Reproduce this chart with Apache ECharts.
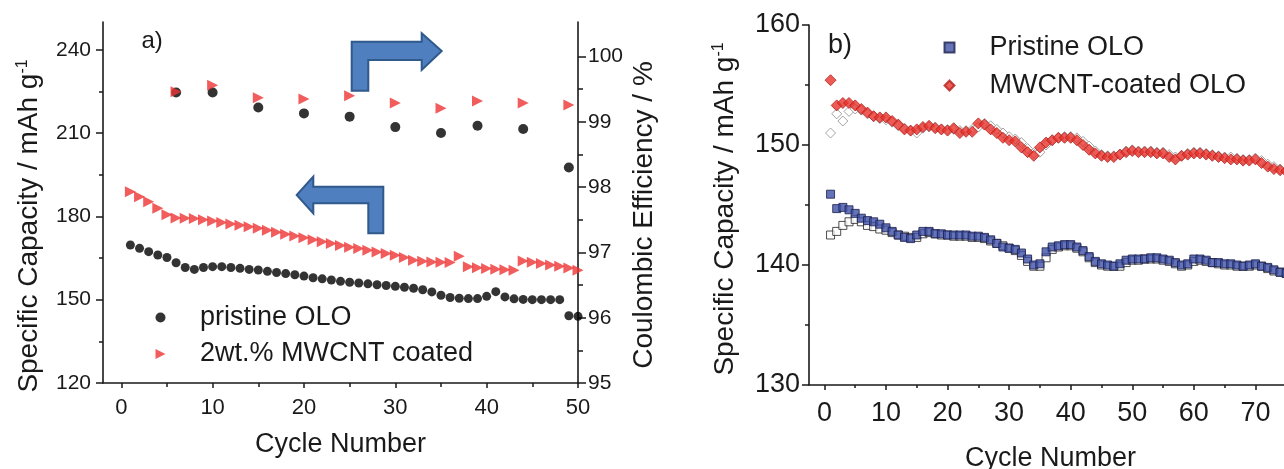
<!DOCTYPE html>
<html><head><meta charset="utf-8">
<script src="https://cdn.jsdelivr.net/npm/echarts@6/dist/echarts.min.js"></script>
<style>html,body{margin:0;padding:0;background:#fff}#c{width:1284px;height:469px}</style>
</head><body><div id="c"></div>
<script>
// ---------- Panel a data ----------
const cyclesA = [1,2,3,4,5,6,7,8,9,10,11,12,13,14,15,16,17,18,19,20,21,22,23,24,25,26,27,28,29,30,31,32,33,34,35,36,37,38,39,40,41,42,43,44,45,46,47,48,49,50];
const capPristineA = [169.7,168.5,167.3,166.1,165.2,163.3,161.6,160.9,161.6,161.9,161.9,161.6,161.3,160.9,160.7,160.2,159.8,159.4,159.0,158.5,157.9,157.5,157.1,156.6,156.3,156.0,155.7,155.4,155.1,154.8,154.5,154.1,153.6,152.8,151.6,150.8,150.5,150.4,150.4,151.2,152.9,151.0,150.3,150.1,150.0,150.0,150.0,150.0,144.2,144.0];
const capCoatedA = [188.9,187.1,185.3,182.9,180.6,179.4,179.3,179.2,178.8,178.3,177.8,177.3,176.8,176.3,175.7,175.0,174.3,173.6,172.9,172.3,171.6,170.9,170.2,169.5,168.9,168.4,167.8,167.2,166.6,166.0,165.2,164.2,163.8,163.6,163.5,163.4,165.6,161.9,161.5,161.2,161.0,160.8,160.6,163.9,163.5,163.0,162.5,162.0,161.4,160.6];
const ceCycles = [6,10,15,20,25,30,35,39,44,49];
const cePristine = [99.45,99.45,99.22,99.13,99.08,98.92,98.83,98.94,98.89,98.30];
const ceCoated = [99.46,99.56,99.37,99.35,99.40,99.29,99.21,99.32,99.29,99.26];
const xTicksA = [0,10,20,30,40,50];
const xMinorA = [5,15,25,35,45];
const yTicksA = [120,150,180,210,240];
const yMinorA = [135,165,195,225];
const ceTicks = [95,96,97,98,99,100];
const ceMinor = [95.5,96.5,97.5,98.5,99.5];

// ---------- Panel b data ----------
const cyclesB = [1,2,3,4,5,6,7,8,9,10,11,12,13,14,15,16,17,18,19,20,21,22,23,24,25,26,27,28,29,30,31,32,33,34,35,36,37,38,39,40,41,42,43,44,45,46,47,48,49,50,51,52,53,54,55,56,57,58,59,60,61,62,63,64,65,66,67,68,69,70,71,72,73,74,75];
const pristineB = [145.9,144.7,144.8,144.6,144.3,143.9,143.7,143.6,143.4,143.1,142.8,142.5,142.3,142.2,142.5,142.8,142.8,142.6,142.6,142.5,142.5,142.5,142.5,142.4,142.4,142.3,142.1,141.8,141.5,141.4,141.3,141.0,140.5,140.0,140.1,141.1,141.5,141.6,141.7,141.7,141.5,141.2,140.7,140.3,140.1,140.0,139.9,140.1,140.4,140.5,140.5,140.5,140.6,140.6,140.5,140.4,140.2,140.0,140.1,140.5,140.5,140.4,140.2,140.2,140.1,140.1,140.0,139.9,140.0,140.1,139.9,139.8,139.6,139.4,139.3];
const pristineHollowB = [142.5,142.8,143.3,143.6,143.8,143.6,143.3,143.2,143.0,142.9,142.7,142.5,142.4,142.3,142.3,142.6,142.7,142.6,142.5,142.5,142.4,142.4,142.4,142.3,142.3,142.2,142.0,141.8,141.6,141.4,141.2,140.8,140.3,139.9,139.9,140.6,141.3,141.5,141.6,141.6,141.4,141.1,140.6,140.2,140.0,139.9,139.9,139.9,140.2,140.4,140.4,140.5,140.5,140.5,140.4,140.3,140.1,139.9,140.0,140.3,140.4,140.3,140.2,140.1,140.0,140.0,139.9,139.9,139.9,140.0,139.9,139.7,139.5,139.4,139.3];
const coatedB = [155.4,153.3,153.5,153.5,153.3,153.0,152.7,152.4,152.3,152.3,152.0,151.7,151.3,151.2,151.3,151.5,151.6,151.4,151.3,151.2,151.4,151.0,151.1,151.1,151.8,151.7,151.3,151.0,150.6,150.4,150.3,149.8,149.4,149.1,149.8,150.2,150.4,150.6,150.6,150.6,150.4,150.0,149.6,149.3,149.1,149.0,149.0,149.2,149.4,149.5,149.4,149.4,149.4,149.3,149.3,149.0,148.8,149.1,149.2,149.3,149.3,149.2,149.1,149.0,148.9,148.8,148.8,148.7,148.7,148.8,148.5,148.2,148.0,147.9,147.8];
const coatedHollowB = [151.0,152.6,152.0,152.8,153.0,152.9,152.6,152.4,152.2,152.1,151.9,151.6,151.4,151.2,151.0,151.4,151.5,151.5,151.3,151.3,151.3,151.2,151.2,151.3,151.5,151.8,151.6,151.3,151.0,150.7,150.5,150.2,149.7,149.3,149.4,150.0,150.4,150.6,150.7,150.7,150.6,150.3,149.9,149.5,149.2,149.1,149.1,149.2,149.5,149.6,149.5,149.5,149.5,149.4,149.4,149.2,149.0,149.1,149.3,149.4,149.4,149.3,149.2,149.1,149.0,149.0,148.9,148.8,148.8,148.9,148.7,148.4,148.2,148.0,147.9];
const xTicksB = [0,10,20,30,40,50,60,70,80];
const xMinorB = [5,15,25,35,45,55,65,75];
const yTicksB = [130,140,150,160];
const yMinorB = [135,145,155];

// ---------- chart ----------
const FONT = "'Liberation Sans', Arial, sans-serif";
const INK = '#1a1a1a';
const pairs = (xs, ys) => xs.map((x, i) => [x, ys[i]]);
const RIGHT_TRI = 'path://M0,0 L10,5 L0,10 Z';

function axisMain(extra) {
  return Object.assign({
    type: 'value',
    splitLine: { show: false },
    axisLine: { show: true, onZero: false, lineStyle: { color: INK, width: 1.6 } },
  }, extra);
}
function axisMinor(extra) {
  return Object.assign({
    type: 'value',
    splitLine: { show: false },
    axisLine: { show: false, onZero: false },
    axisLabel: { show: false }
  }, extra);
}
const tickStyle = { color: INK, width: 1.5 };
const yName = '{a|Specific Capacity / mAh g}{s|-1}';
const yRich = {
  a: { fontSize: 28, fontFamily: FONT, color: INK },
  s: { fontSize: 16, fontFamily: FONT, color: INK, verticalAlign: 'top' }
};

const option = {
  animation: false,
  backgroundColor: '#fff',
  grid: [
    { left: 103, top: 22, width: 475, height: 361, outerBoundsMode: 'none', containLabel: false },
    { left: 809, top: 25, width: 508, height: 360, outerBoundsMode: 'none', containLabel: false }
  ],
  xAxis: [
    axisMain({ gridIndex: 0, position: 'bottom', min: -2, max: 50,
      axisTick: { customValues: xTicksA, length: 5, lineStyle: tickStyle },
      axisLabel: { customValues: xTicksA, fontSize: 22, margin: 14, color: INK, fontFamily: FONT },
      name: 'Cycle Number', nameLocation: 'middle', nameGap: 48,
      nameTextStyle: { fontSize: 27, color: INK, fontFamily: FONT } }),
    axisMinor({ gridIndex: 0, position: 'bottom', min: -2, max: 50,
      axisTick: { customValues: xMinorA, length: 4, lineStyle: tickStyle } }),
    axisMain({ gridIndex: 1, position: 'bottom', min: -2.5, max: 80,
      axisTick: { customValues: xTicksB, length: 5, lineStyle: tickStyle },
      axisLabel: { customValues: xTicksB, fontSize: 27, margin: 15, color: INK, fontFamily: FONT },
      name: 'Cycle Number', nameLocation: 'middle', nameGap: 60,
      nameTextStyle: { fontSize: 27, color: INK, fontFamily: FONT, padding: [0, 25, 0, 0] } }),
    axisMinor({ gridIndex: 1, position: 'bottom', min: -2.5, max: 80,
      axisTick: { customValues: xMinorB, length: 3, lineStyle: tickStyle } })
  ],
  yAxis: [
    axisMain({ gridIndex: 0, position: 'left', min: 120, max: 250,
      axisTick: { customValues: yTicksA, length: 7, lineStyle: tickStyle },
      axisLabel: { customValues: yTicksA, fontSize: 21, margin: 12, color: INK, fontFamily: FONT },
      name: yName, nameLocation: 'middle', nameGap: 60,
      nameTextStyle: { fontSize: 28, color: INK, fontFamily: FONT, rich: yRich, padding: [0, 47, 0, 0] } }),
    axisMinor({ gridIndex: 0, position: 'left', min: 120, max: 250,
      axisTick: { customValues: yMinorA, length: 4, lineStyle: tickStyle } }),
    axisMain({ gridIndex: 0, position: 'right', min: 95, max: 100.53,
      axisTick: { customValues: ceTicks, length: 8, lineStyle: tickStyle },
      axisLabel: { customValues: ceTicks, fontSize: 21, margin: 10, color: INK, fontFamily: FONT },
      name: 'Coulombic Efficiency / %', nameLocation: 'middle', nameGap: 52,
      nameTextStyle: { fontSize: 28, color: INK, fontFamily: FONT, padding: [0, 25, 0, 0] } }),
    axisMinor({ gridIndex: 0, position: 'right', min: 95, max: 100.53,
      axisTick: { customValues: ceMinor, length: 5, lineStyle: tickStyle } }),
    axisMain({ gridIndex: 1, position: 'left', min: 130, max: 160,
      axisTick: { customValues: yTicksB, length: 7, lineStyle: tickStyle },
      axisLabel: { customValues: yTicksB, fontSize: 27, margin: 9, color: INK, fontFamily: FONT },
      name: yName, nameLocation: 'middle', nameGap: 70,
      nameTextStyle: { fontSize: 28, color: INK, fontFamily: FONT, rich: yRich, padding: [0, 8, 0, 0] } }),
    axisMinor({ gridIndex: 1, position: 'left', min: 130, max: 160,
      axisTick: { customValues: yMinorB, length: 4, lineStyle: tickStyle } })
  ],
  legend: [
    { data: [{ name: 'pristine OLO', icon: 'circle' }, { name: '2wt.% MWCNT coated', icon: RIGHT_TRI }],
      orient: 'vertical', left: 155.5, top: 304,
      padding: 0, itemWidth: 10, itemHeight: 10, itemGap: 9.5, selectedMode: false,
      textStyle: { fontSize: 27, lineHeight: 27, color: INK, fontFamily: FONT, padding: [0, 0, 0, 29.5] } },
    { data: ['Pristine OLO', 'MWCNT-coated OLO'], orient: 'vertical', left: 943.5, top: 34,
      padding: 0, itemWidth: 10, itemHeight: 10, itemGap: 11, selectedMode: false,
      textStyle: { fontSize: 27, lineHeight: 27, color: INK, fontFamily: FONT, padding: [0, 0, 0, 30] } }
  ],
  graphic: [
    { type: 'text', x: 141.5, y: 41, style: { text: 'a)', fontSize: 24, fontFamily: FONT, fill: INK, verticalAlign: 'middle' } },
    { type: 'text', x: 828, y: 46, style: { text: 'b)', fontSize: 27, fontFamily: FONT, fill: INK, verticalAlign: 'middle' } },
    { type: 'polygon', shape: { points: [[351.7,41.7],[421.7,41.7],[421.7,33.3],[441.7,51],[421.7,70],[421.7,60],[368.3,60],[368.3,90.7],[351.7,90.7]] },
      style: { fill: '#4f7fbf', stroke: '#30598c', lineWidth: 2 } },
    { type: 'polygon', shape: { points: [[383.3,186.7],[383.3,233.3],[368.3,233.3],[368.3,203.3],[313.3,203.3],[313.3,213.3],[296.7,195],[313.3,176.7],[313.3,186.7]] },
      style: { fill: '#4f7fbf', stroke: '#30598c', lineWidth: 2 } }
  ],
  series: [
    { type: 'scatter', name: 'pristine OLO', xAxisIndex: 0, yAxisIndex: 0, symbol: 'circle', symbolSize: 9,
      itemStyle: { color: '#000' }, data: pairs(cyclesA, capPristineA) },
    { type: 'scatter', name: '2wt.% MWCNT coated', xAxisIndex: 0, yAxisIndex: 0, symbol: 'triangle', symbolRotate: -90, symbolSize: 11,
      itemStyle: { color: '#ee3434' }, data: pairs(cyclesA, capCoatedA) },
    { type: 'scatter', name: 'pristine OLO', xAxisIndex: 0, yAxisIndex: 2, symbol: 'circle', symbolSize: 10,
      itemStyle: { color: '#000' }, data: pairs(ceCycles, cePristine) },
    { type: 'scatter', name: '2wt.% MWCNT coated', xAxisIndex: 0, yAxisIndex: 2, symbol: 'triangle', symbolRotate: -90, symbolSize: 11,
      itemStyle: { color: '#ee3434' }, data: pairs(ceCycles, ceCoated) },

    { type: 'scatter', name: 'Pristine OLO (open)', xAxisIndex: 2, yAxisIndex: 4, symbol: 'rect', symbolSize: 8,
      itemStyle: { color: '#fff', borderColor: '#222', borderWidth: 1 }, data: pairs(cyclesB, pristineHollowB) },
    { type: 'scatter', name: 'MWCNT-coated OLO (open)', xAxisIndex: 2, yAxisIndex: 4, symbol: 'diamond', symbolSize: 10,
      itemStyle: { color: '#fff', borderColor: '#8c8c8c', borderWidth: 1 }, data: pairs(cyclesB, coatedHollowB) },
    { type: 'scatter', name: 'Pristine OLO', xAxisIndex: 2, yAxisIndex: 4, symbol: 'rect', symbolSize: 8,
      itemStyle: { color: '#3f51a8', borderColor: '#1b1f4a', borderWidth: 1 }, data: pairs(cyclesB, pristineB) },
    { type: 'scatter', name: 'MWCNT-coated OLO', xAxisIndex: 2, yAxisIndex: 4, symbol: 'diamond', symbolSize: 11,
      itemStyle: { color: '#e8322c', borderColor: '#b3211d', borderWidth: 1 }, data: pairs(cyclesB, coatedB) }
  ]
};
const chart = echarts.init(document.getElementById('c'), null, { renderer: 'canvas' });
chart.setOption(option);
</script>
</body></html>
